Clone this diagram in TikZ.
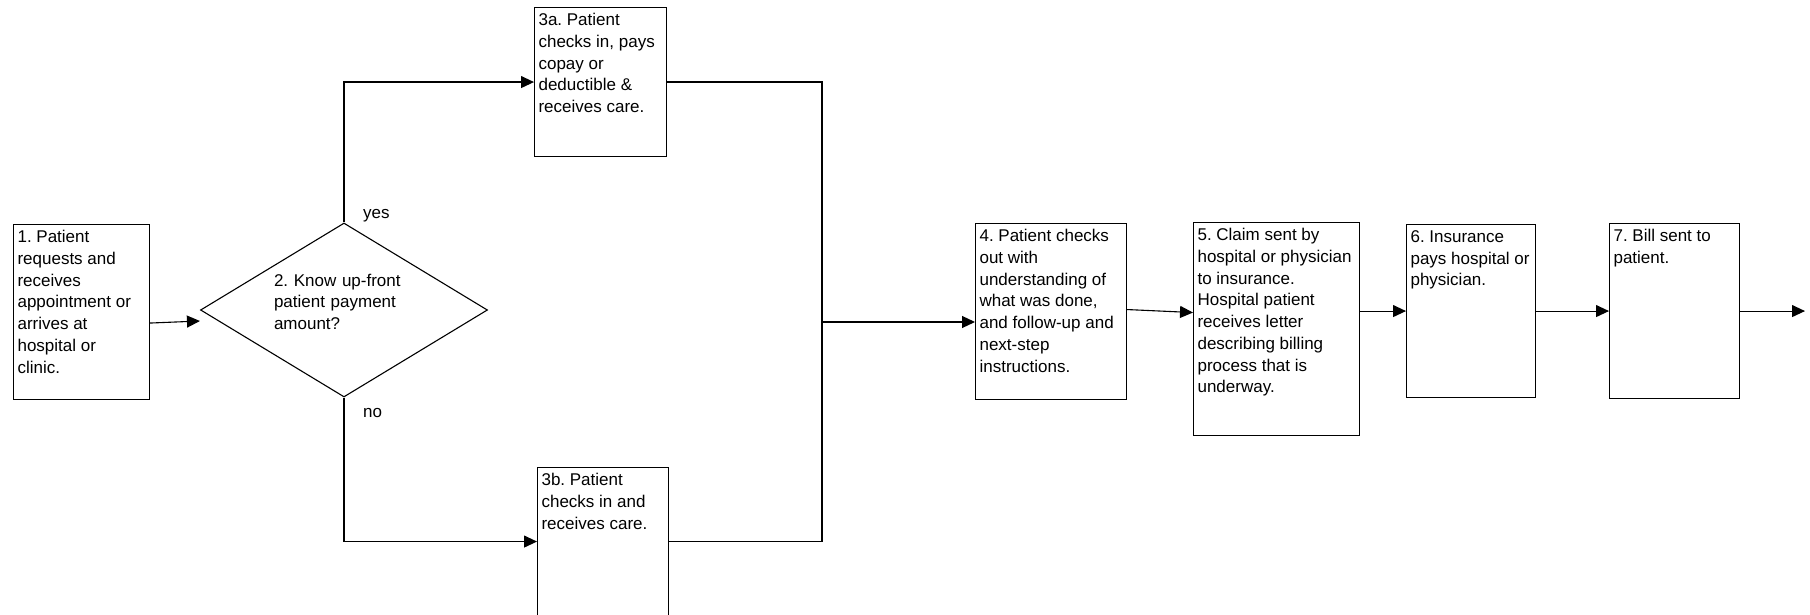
\documentclass[tikz,border=0pt]{standalone}
\usepackage{fontspec}
\setmainfont{Liberation Sans}
\usetikzlibrary{shapes.geometric, arrows.meta, positioning}
\frenchspacing

\begin{document}
\begin{tikzpicture}[
    x=1pt, y=-1pt,
    font=\fontsize{17}{21.7}\selectfont,
    stepbox/.style={rectangle, draw, line width=1.1pt, anchor=north west, inner xsep=4pt, inner ysep=6pt, align=left},
    decision/.style={diamond, draw, line width=1.1pt, aspect=1.65, minimum width=287pt, minimum height=174pt, inner sep=0pt, text width=140pt, text depth=60pt, align=left},
    flow/.style={-{Triangle[length=13pt, width=12pt]}, line width=1.1pt},
    line/.style={line width=1.1pt},
    tag/.style={anchor=base west, inner sep=0pt}
  ]

  \useasboundingbox (0,0) rectangle (1810,615);

  % Request and decision
  \node[stepbox] (request) at (13,224) {\parbox[t][163pt][t]{128pt}{\raggedright 1. Patient\\ requests and\\ receives\\ appointment or\\ arrives at\\ hospital or\\ clinic.}};
  \node[decision] (know) at (344,310) {2. Know up-front\\ patient payment\\ amount?};

  % Check in
  \node[stepbox] (paid) at (534,7) {\parbox[t][137pt][t]{124pt}{\raggedright 3a. Patient\\ checks in, pays\\ copay or\\ deductible \&\\ receives care.}};
  \node[stepbox] (unpaid) at (537,467) {\parbox[t][136pt][t]{123pt}{\raggedright 3b. Patient\\ checks in and\\ receives care.}};

  % Check out and billing
  \node[stepbox] (checkout) at (975,223) {\parbox[t][164pt][t]{143pt}{\raggedright 4. Patient checks\\ out with\\ understanding of\\ what was done,\\ and follow-up and\\ next-step\\ instructions.}};
  \node[stepbox] (claim) at (1193,222) {\parbox[t][201pt][t]{158pt}{\raggedright 5. Claim sent by\\ hospital or physician\\ to insurance.\\ Hospital patient\\ receives letter\\ describing billing\\ process that is\\ underway.}};
  \node[stepbox] (payer) at (1406,224) {\parbox[t][161pt][t]{121pt}{\raggedright 6. Insurance\\ pays hospital or\\ physician.}};
  \node[stepbox] (bill) at (1609,223) {\parbox[t][163pt][t]{122pt}{\raggedright 7. Bill sent to\\ patient.}};

  % Branch labels
  \node[tag] (yes) at ([xshift=19pt,yshift=4pt]know.north) {yes};
  \node[tag] (no) at ([xshift=19pt,yshift=-20pt]know.south) {no};

  % Connectors
  \coordinate (merge) at (822,322);
  \coordinate (exit) at (1805,309);
  \draw[flow] ([yshift=-11pt]request.east) -- ([yshift=-11pt]know.west);
  \draw[flow] (know.north) |- (paid.west);
  \draw[flow] (know.south) |- (unpaid.west);
  \draw[line] (paid.east) -| (merge);
  \draw[line] (unpaid.east) -| (merge);
  \draw[flow] (merge) -- (merge -| checkout.west);
  \draw[flow] ([yshift=2pt]checkout.east) -- ([yshift=-1pt]checkout.east -| claim.west);
  \draw[flow] (claim.east |- payer.west) -- (payer.west);
  \draw[flow] (payer.east) -- (payer.east -| bill.west);
  \draw[flow] (bill.east) -- (bill.east -| exit);

\end{tikzpicture}
\end{document}
